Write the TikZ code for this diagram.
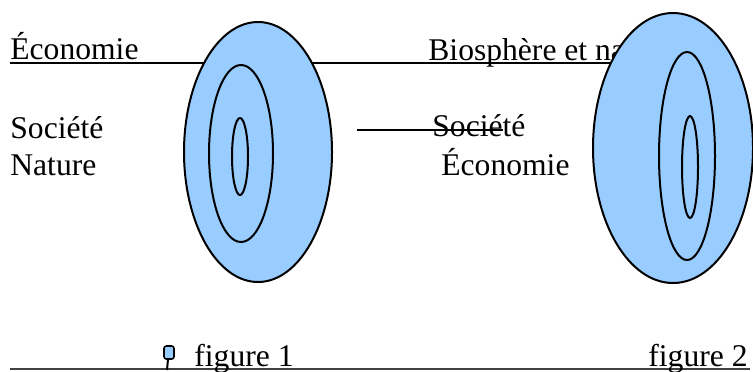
\documentclass[tikz,border=0pt]{standalone}
\usepackage{fontspec}
\setmainfont{Liberation Serif}
\definecolor{ringblue}{RGB}{153,204,255}
\begin{document}
\begin{tikzpicture}[x=0.5pt, y=-0.5pt,
    font=\fontsize{15.8}{18}\selectfont,
    lab/.style={anchor=base west, inner sep=0pt},
    ring/.style={draw=black, fill=ringblue, line width=1pt}]
    \useasboundingbox (0,0) rectangle (753,371);
    \coordinate (top-a) at (10,63);
    \coordinate (top-b) at (620,63);
    \draw[line width=1pt] (top-a) -- (top-b);
    \node[lab] (eco1) at (10,59) {Économie};
    \node[lab] (soc1) at (10,138) {Société};
    \node[lab] (nat1) at (10,175) {Nature};
    \node[lab] (bio2) at (428,60) {Biosphère et nature};
    \node[lab] (soc2) at (432,136) {Société};
    \node[lab] (eco2) at (441,175) {Économie};
    \coordinate (strike-a) at (357,130);
    \coordinate (strike-b) at (503,130);
    \draw[line width=1pt] (strike-a) -- (strike-b);
    \foreach \cx/\cy/\rx/\ry in {258/152/74/130, 241/153.5/32/88.5, 240/156.5/8/38.5,
                                 673/148/80/135, 687/156/28/104, 690/167/8/51} {
        \filldraw[ring] (\cx,\cy) ellipse [x radius=\rx, y radius=\ry];
    }
    \coordinate (base-a) at (10,369);
    \coordinate (base-b) at (750,369);
    \draw[gray!50!black, line width=0.6pt] (base-a) -- (base-b);
    \coordinate (pin) at (168,359);
    \coordinate (pin-foot) at (167,370);
    \draw[line width=1pt] (pin) -- (pin-foot);
    \filldraw[ring, line width=0.8pt, rounded corners=1.2pt] (164,346) rectangle (174,359);
    \node[lab] (fig1) at (194,366) {figure 1};
    \node[lab] (fig2) at (648,366) {figure 2};
\end{tikzpicture}
\end{document}
